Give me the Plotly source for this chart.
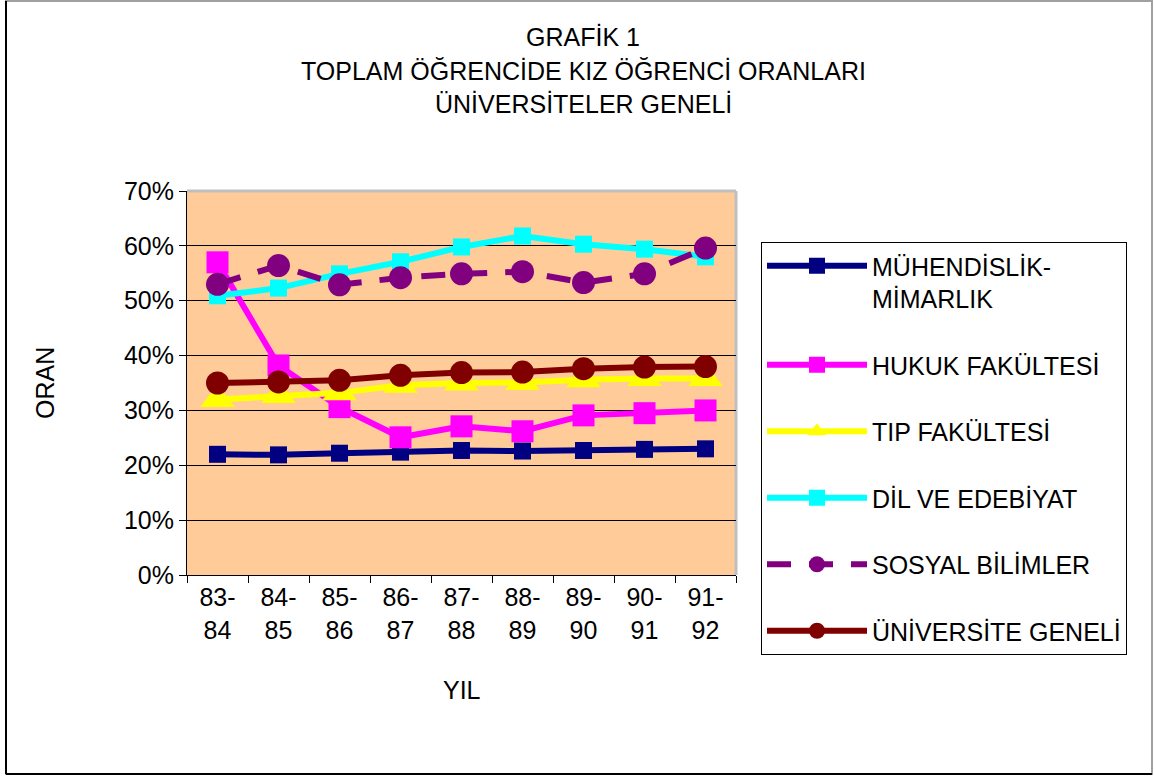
import plotly.graph_objects as go

years = ["83-<br>84", "84-<br>85", "85-<br>86", "86-<br>87", "87-<br>88",
         "88-<br>89", "89-<br>90", "90-<br>91", "91-<br>92"]

muhendislik = [0.220, 0.219, 0.222, 0.224, 0.227, 0.226, 0.227, 0.229, 0.230]
hukuk = [0.570, 0.382, 0.306, 0.251, 0.271, 0.262, 0.291, 0.295, 0.300]
tip = [0.320, 0.327, 0.332, 0.346, 0.350, 0.351, 0.356, 0.358, 0.358]
dil = [0.509, 0.523, 0.549, 0.571, 0.598, 0.618, 0.603, 0.594, 0.580]
sosyal = [0.530, 0.564, 0.529, 0.542, 0.549, 0.553, 0.533, 0.549, 0.596]
universite = [0.350, 0.352, 0.355, 0.364, 0.369, 0.370, 0.376, 0.379, 0.380]

series = [
    ("MÜHENDİSLİK-<br>MİMARLIK", muhendislik, "#000080", "square", 17, "solid"),
    ("HUKUK FAKÜLTESİ", hukuk, "#FF00FF", "square", 22, "solid"),
    ("TIP FAKÜLTESİ", tip, "#FFFF00", "triangle-up", 30, "solid"),
    ("DİL VE EDEBİYAT", dil, "#00FFFF", "square", 17, "solid"),
    ("SOSYAL BİLİMLER", sosyal, "#800080", "circle", 23, "24px,18px"),
    ("ÜNİVERSİTE GENELİ", universite, "#800000", "circle", 23, "solid"),
]

FONT = "Liberation Sans, Arial, sans-serif"
FS = 25
fig = go.Figure()
for i, (name, vals, color, sym, size, dash) in enumerate(series):
    fig.add_trace(go.Scatter(
        x=years, y=vals, name=name, mode="lines+markers",
        line=dict(color=color, width=6, dash=dash),
        marker=dict(symbol=sym, size=size, color=color),
        legendgroup=f"g{i}",
    ))

# plot area geometry (px) for paper conversions
L, R, T, B = 187, 736, 191, 575
W, H = R - L, B - T
def px(x):
    return (x - L) / W
def py(y):
    return (B - y) / H

shapes = [
    # outer frame
    dict(type="rect", xref="paper", yref="paper", x0=px(6), x1=px(1152), y0=py(774), y1=py(1),
         line=dict(color="#A0A0A0", width=2), layer="below"),
    dict(type="line", xref="paper", yref="paper", x0=px(6), x1=px(6), y0=py(774), y1=py(1),
         line=dict(color="black", width=2)),
    dict(type="line", xref="paper", yref="paper", x0=px(6), x1=px(1152), y0=py(774), y1=py(774),
         line=dict(color="black", width=2)),
    # plot area top/right gray border
    dict(type="line", xref="paper", yref="paper", x0=0, x1=1, y0=1, y1=1,
         line=dict(color="#BFBFBF", width=3), layer="below"),
    dict(type="line", xref="paper", yref="paper", x0=1, x1=1, y0=0, y1=1,
         line=dict(color="#BFBFBF", width=3), layer="below"),
]

title_lines = ["GRAFİK 1", "TOPLAM ÖĞRENCİDE KIZ ÖĞRENCİ ORANLARI", "ÜNİVERSİTELER GENELİ"]
title_y = [37, 71, 104]
annotations = [
    dict(text=t, x=px(583), y=py(yy), xref="paper", yref="paper", showarrow=False,
         xanchor="center", yanchor="middle", font=dict(family=FONT, size=FS, color="black"))
    for t, yy in zip(title_lines, title_y)
]
annotations.append(dict(text="YIL", x=px(462), y=py(690), xref="paper", yref="paper",
                        showarrow=False, xanchor="center", yanchor="middle",
                        font=dict(family=FONT, size=FS, color="black")))
annotations.append(dict(text="ORAN", x=px(45), y=py(383), xref="paper", yref="paper",
                        showarrow=False, xanchor="center", yanchor="middle", textangle=-90,
                        font=dict(family=FONT, size=FS, color="black")))

fig.update_layout(
    width=1154, height=776,
    margin=dict(l=L, r=1154 - R, t=T, b=776 - B, pad=0),
    paper_bgcolor="white", plot_bgcolor="#FFCC99",
    font=dict(family=FONT, size=FS, color="black"),
    shapes=shapes, annotations=annotations,
    legend=dict(
        x=px(761), y=py(242), xanchor="left", yanchor="top",
        bordercolor="black", borderwidth=1, bgcolor="white",
        font=dict(family=FONT, size=FS, color="black"),
        itemwidth=100, valign="top", tracegroupgap=31, maxheight=600,
    ),
    showlegend=True,
)
fig.update_xaxes(
    type="category", showgrid=False, showline=True, linecolor="black", linewidth=1,
    ticks="outside", ticklen=7, tickcolor="black", tickson="boundaries",
    range=[-0.5, 8.5], tickfont=dict(family=FONT, size=FS),
)
fig.update_yaxes(
    range=[0, 0.7], dtick=0.1, tickformat=".0%", showgrid=True, gridcolor="black",
    gridwidth=1, showline=True, linecolor="black", linewidth=1, ticks="outside",
    ticklen=7, tickcolor="black", tickfont=dict(family=FONT, size=FS), zeroline=False,
)

fig.write_html("out.html", config={"displayModeBar": False},
               post_script="document.body.style.margin='0';document.body.style.overflow='hidden';")
